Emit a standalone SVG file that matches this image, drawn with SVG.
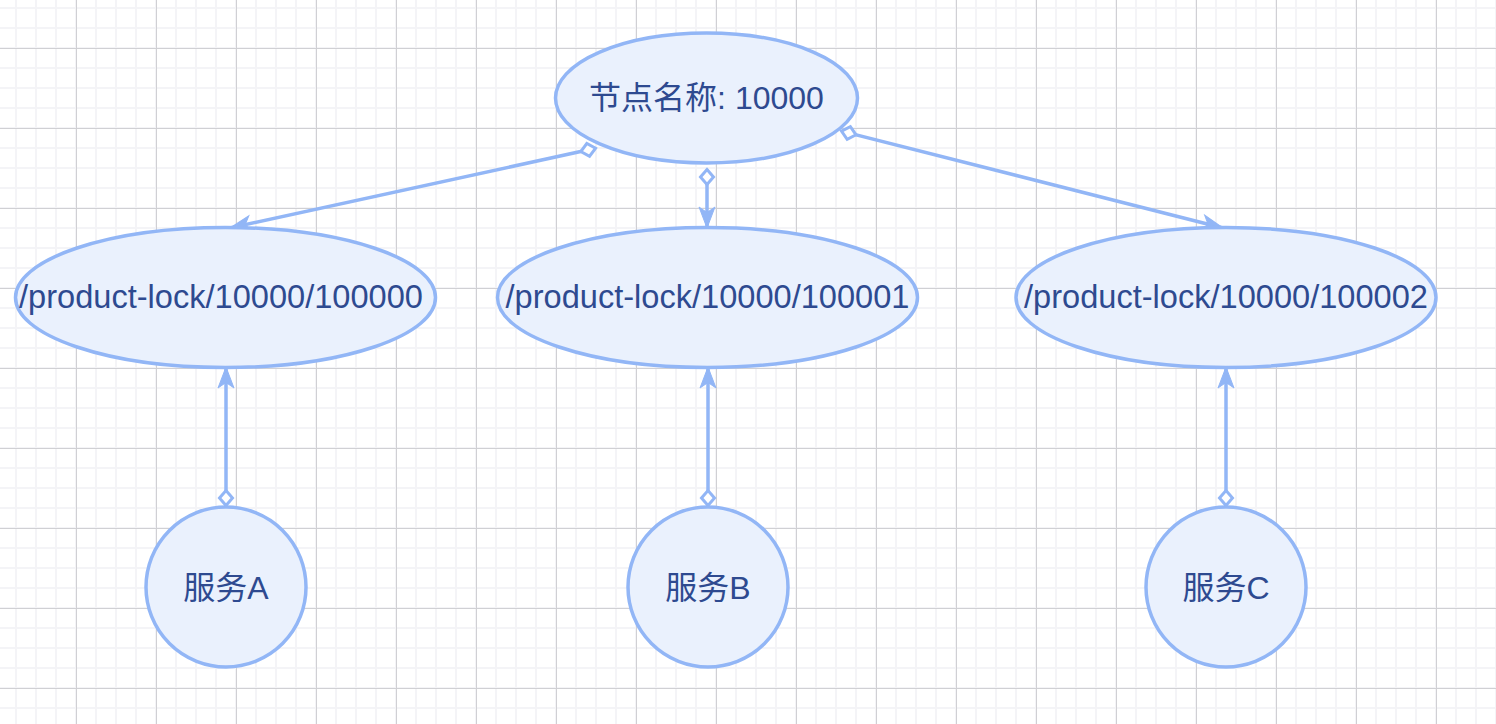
<svg xmlns="http://www.w3.org/2000/svg" width="1496" height="724" viewBox="0 0 1496 724">
<defs>
<pattern id="minor" x="15" y="7" width="20" height="20" patternUnits="userSpaceOnUse">
<rect x="0" y="0" width="2" height="20" fill="#f4f4f7"/>
<rect x="0" y="0" width="20" height="2" fill="#f4f4f7"/>
</pattern>
<pattern id="major" x="76" y="48" width="80" height="80" patternUnits="userSpaceOnUse">
<rect x="0" y="0" width="1" height="80" fill="#d0d0d4"/>
<rect x="0" y="0" width="80" height="1" fill="#d0d0d4"/>
</pattern>
<marker id="dia" markerUnits="userSpaceOnUse" markerWidth="22" markerHeight="18" refX="1" refY="9" orient="auto" overflow="visible">
<path d="M1 9 L8.5 2.5 L16 9 L8.5 15.5 Z" fill="#ffffff" stroke="#92b6f6" stroke-width="3" stroke-linejoin="miter"/>
</marker>
<marker id="arr" markerUnits="userSpaceOnUse" markerWidth="24" markerHeight="18" refX="21" refY="9" orient="auto" overflow="visible">
<path d="M21 9 L0 1 L5.5 9 L0 17 Z" fill="#92b6f6" stroke="#92b6f6" stroke-width="1"/>
</marker>
</defs>
<style>
.node{fill:#eaf1fd;stroke:#92b6f6;stroke-width:3.5}
.lbl{font-family:"Liberation Sans","Noto Sans CJK SC",sans-serif;font-size:32px;fill:#2e4a90;text-anchor:middle}
.lbl.path{font-size:32.6px}
.edge{fill:none;stroke:#92b6f6;stroke-width:3.5}
</style>
<rect width="1496" height="724" fill="#ffffff"/>
<rect width="1496" height="724" fill="url(#minor)"/>
<rect width="1496" height="724" fill="url(#major)"/>
<g id="connectors">
<path class="edge" d="M595.5 148.3 L230 228" marker-start="url(#dia)" marker-end="url(#arr)"/>
<path class="edge" d="M707 169.5 L707 228" marker-start="url(#dia)" marker-end="url(#arr)"/>
<path class="edge" d="M841.5 131.1 L1223 228" marker-start="url(#dia)" marker-end="url(#arr)"/>
<path class="edge" d="M226 505.5 L226 367" marker-start="url(#dia)" marker-end="url(#arr)"/>
<path class="edge" d="M708 505.5 L708 367" marker-start="url(#dia)" marker-end="url(#arr)"/>
<path class="edge" d="M1226 505.5 L1226 367" marker-start="url(#dia)" marker-end="url(#arr)"/>
</g>
<g id="root">
<ellipse class="node" cx="706.5" cy="98" rx="151" ry="65"/>
<text class="lbl" x="706.5" y="109">节点名称: 10000</text>
</g>
<g id="lock0">
<ellipse class="node" cx="225.5" cy="297.5" rx="210" ry="70"/>
<text class="lbl path" x="221" y="308">/product-lock/10000/100000</text>
</g>
<g id="lock1">
<ellipse class="node" cx="707.5" cy="297.5" rx="210" ry="70"/>
<text class="lbl path" x="707.5" y="308">/product-lock/10000/100001</text>
</g>
<g id="lock2">
<ellipse class="node" cx="1226" cy="297.5" rx="210" ry="70"/>
<text class="lbl path" x="1226" y="308">/product-lock/10000/100002</text>
</g>
<g id="svcA">
<circle class="node" cx="226" cy="587" r="80"/>
<text class="lbl" x="226" y="598.5">服务A</text>
</g>
<g id="svcB">
<circle class="node" cx="708" cy="587" r="80"/>
<text class="lbl" x="708" y="598.5">服务B</text>
</g>
<g id="svcC">
<circle class="node" cx="1226" cy="587" r="80"/>
<text class="lbl" x="1226" y="598.5">服务C</text>
</g>
</svg>
